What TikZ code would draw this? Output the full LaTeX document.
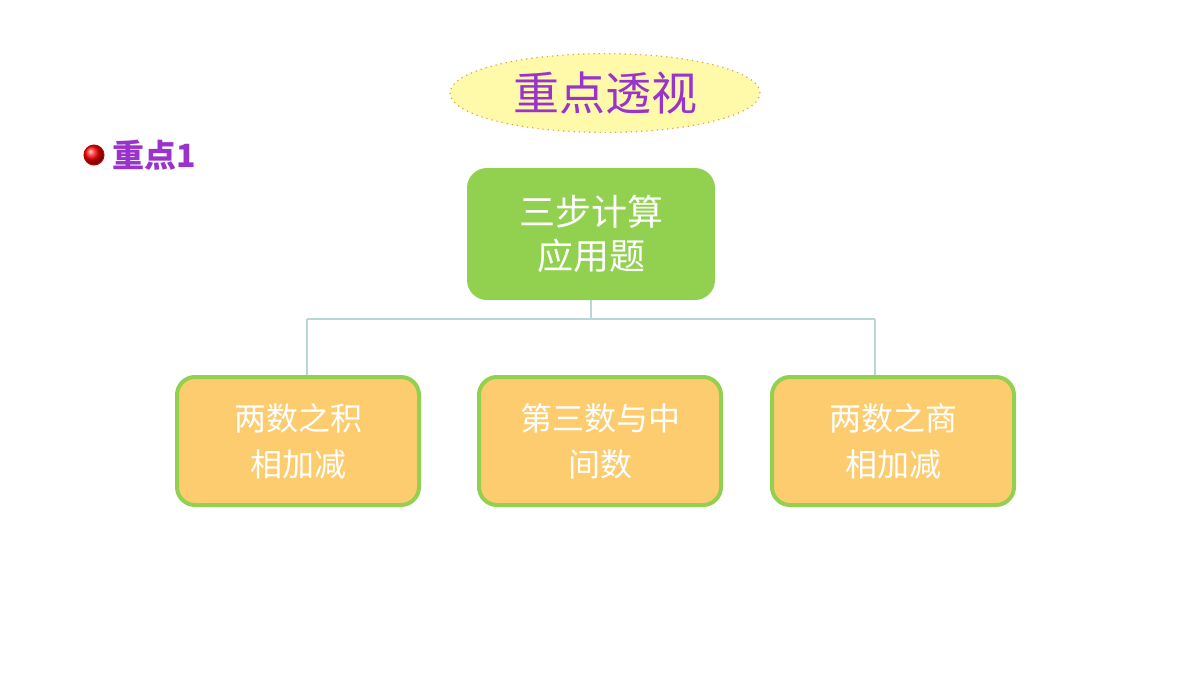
\documentclass[tikz,border=0pt]{standalone}
\usepackage{fontspec}
\newfontfamily\cjk{Noto Sans CJK SC}
\usetikzlibrary{shapes.geometric}
\begin{document}
\begin{tikzpicture}[x=0.5pt,y=-0.5pt,
  topbox/.style={draw=none,rounded corners=10pt,minimum width=124pt,minimum height=66pt,align=center,text=white,font=\cjk\fontsize{18}{22}\selectfont},
  subbox/.style={draw={rgb,255:red,146;green,208;blue,80},line width=2pt,fill={rgb,255:red,252;green,204;blue,110},rounded corners=9pt,minimum width=121pt,minimum height=64pt,align=center,text=white,font=\cjk\fontsize{16}{23}\selectfont},
  conn/.style={draw={rgb,255:red,183;green,215;blue,215},line width=0.6pt}]
\useasboundingbox (0,0) rectangle (1200,675);
\node[ellipse,draw={rgb,255:red,230;green,160;blue,60},dotted,line width=0.6pt,fill={rgb,255:red,255;green,250;blue,170},minimum width=155pt,minimum height=38pt,text={rgb,255:red,153;green,51;blue,204},font=\cjk\fontsize{23}{26}\selectfont] (title) at (605,93) {重点透视};
\node[circle,draw={rgb,255:red,200;green,0;blue,0},line width=0.5pt,ball color=red,minimum size=10pt,inner sep=0pt] (dot) at (94,155) {};
\node[anchor=west,inner sep=0pt,text={rgb,255:red,153;green,51;blue,204},font=\cjk\bfseries\fontsize{16}{18}\selectfont] (k1) at (112,155) {重点1};
\node[topbox,fill={rgb,255:red,146;green,208;blue,80}] (top) at (591,234) {三步计算\\应用题};
\node[subbox] (a) at (298,441) {两数之积\\相加减};
\node[subbox] (b) at (600,441) {第三数与中\\间数};
\node[subbox] (c) at (893,441) {两数之商\\相加减};
\coordinate (j) at (591,319);
\coordinate (jl) at (307,319);
\coordinate (jr) at (875,319);
\coordinate (el) at (307,375);
\coordinate (er) at (875,375);
\draw[conn] (top.south) -- (j);
\draw[conn] (jl) -- (jr);
\draw[conn] (jl) -- (el);
\draw[conn] (jr) -- (er);
\end{tikzpicture}
\end{document}
